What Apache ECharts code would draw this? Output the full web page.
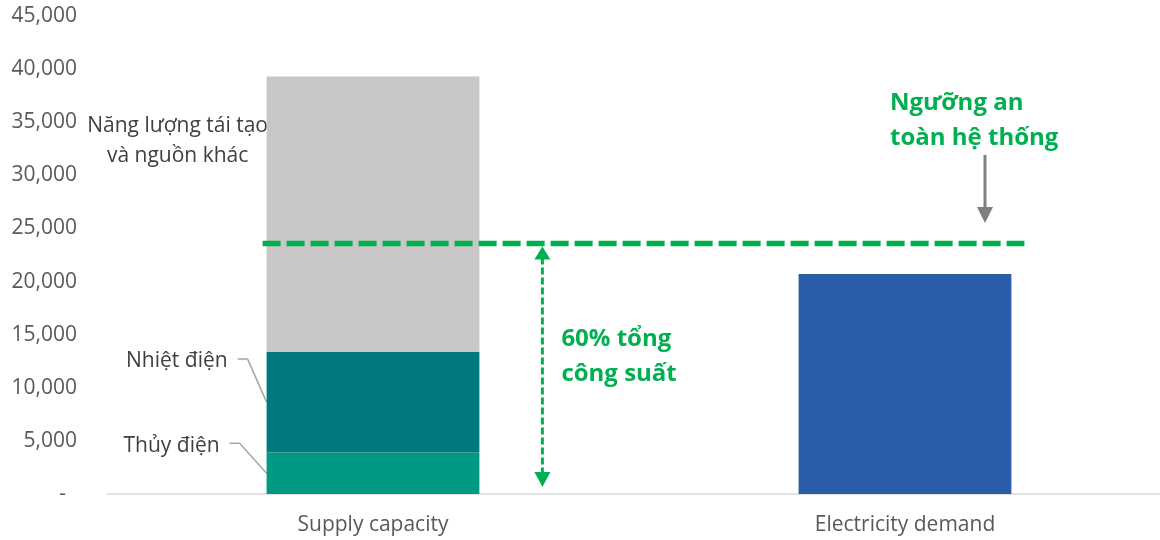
<!DOCTYPE html>
<html>
<head>
<meta charset="utf-8">
<title>Supply capacity vs electricity demand</title>
<script src="https://cdn.jsdelivr.net/npm/echarts@6/dist/echarts.min.js"></script>
<style>
  html, body { margin: 0; padding: 0; background: #ffffff; }
  #chart { width: 1160px; height: 540px; }
</style>
</head>
<body>
<div id="chart"></div>
<script>
// Categories and stacked capacity components (MW)
const categories = ['Supply capacity', 'Electricity demand'];
const hydro = [3900, null];        // Thủy điện
const thermal = [9500, null];      // Nhiệt điện
const renewable = [25900, null];   // Năng lượng tái tạo và nguồn khác
const demand = [null, 20700];      // Electricity demand
// Safety threshold: share of total installed capacity
const safetyShare = 0.6;
// Value axis ticks
const yMin = 0, yMax = 45000, yStep = 5000;

const FONT = "'Open Sans', 'Noto Sans', sans-serif";
const GREEN = '#00B050';

const chart = echarts.init(document.getElementById('chart'), null, { renderer: 'canvas' });

const totalCapacity = hydro[0] + thermal[0] + renewable[0];
const threshold = totalCapacity * safetyShare;

chart.setOption({
  animation: false,
  backgroundColor: '#ffffff',
  textStyle: { fontFamily: FONT },
  grid: { left: 107, top: 16, width: 1064, height: 478, outerBoundsMode: 'none', containLabel: false },
  xAxis: {
    type: 'category',
    data: categories,
    axisLine: { lineStyle: { color: '#d9d9d9', width: 1.5 } },
    axisTick: { show: false },
    axisLabel: { fontSize: 21, color: '#595959', margin: 21, fontFamily: FONT }
  },
  yAxis: {
    type: 'value',
    min: yMin, max: yMax, interval: yStep,
    axisLine: { show: false },
    axisTick: { show: false },
    splitLine: { show: false },
    axisLabel: {
      fontSize: 21, color: '#595959', margin: 30, fontFamily: FONT,
      formatter: v => v === 0 ? '{dash|-}' : v.toLocaleString('en-US'),
      rich: { dash: { fontSize: 21, color: '#595959', padding: [0, 11, 0, 0], fontFamily: FONT } }
    }
  },
  series: [
    { name: 'Thủy điện', type: 'bar', stack: 'all', barWidth: '40%', data: hydro, itemStyle: { color: '#009A84' } },
    { name: 'Nhiệt điện', type: 'bar', stack: 'all', data: thermal, itemStyle: { color: '#00787F' } },
    { name: 'Năng lượng tái tạo và nguồn khác', type: 'bar', stack: 'all', data: renewable, itemStyle: { color: '#C7C7C7' } },
    { name: 'Electricity demand', type: 'bar', stack: 'all', data: demand, itemStyle: { color: '#2B5CA7' } }
  ]
});

// Annotations placed from the axes' own scales
function px(catIndex, value) {
  return chart.convertToPixel({ xAxisIndex: 0, yAxisIndex: 0 }, [catIndex, value]);
}

const c0 = px(0, 0), c1 = px(1, 0);
const band = c1[0] - c0[0];
const halfBar = band * 0.4 / 2;
const supplyLeft = c0[0] - halfBar;
const supplyRight = c0[0] + halfBar;
const demandRight = c1[0] + halfBar;
const y0 = c0[1];
const yThr = px(0, threshold)[1];
const yHydroMid = px(0, hydro[0] / 2)[1];
const yThermalMid = px(0, hydro[0] + thermal[0] / 2)[1];
const yTop = px(0, totalCapacity)[1];

const labelStyle = { fill: '#404040', fontSize: 21, fontFamily: FONT };
const leader = { stroke: '#a6a6a6', lineWidth: 1.5, fill: null };

function tri(x, tipY, baseY, half, color) {
  return { type: 'polygon', shape: { points: [[x, tipY], [x - half, baseY], [x + half, baseY]] }, style: { fill: color } };
}

const arrowX = supplyRight + 63;
const grayX = 985;

chart.setOption({
  graphic: [
    // Component labels to the left of the supply bar
    { type: 'text', style: Object.assign({ text: 'Năng lượng tái tạo\nvà nguồn khác', x: supplyLeft - 89, y: yTop + 64, align: 'center', verticalAlign: 'middle', lineHeight: 30 }, labelStyle) },
    { type: 'text', style: Object.assign({ text: 'Nhiệt điện', x: supplyLeft - 39, y: yThermalMid - 41, align: 'right', verticalAlign: 'middle' }, labelStyle) },
    { type: 'polyline', shape: { points: [[supplyLeft - 29, yThermalMid - 43], [supplyLeft - 19, yThermalMid - 43], [supplyLeft, yThermalMid]] }, style: leader },
    { type: 'text', style: Object.assign({ text: 'Thủy điện', x: supplyLeft - 47, y: yHydroMid - 27, align: 'right', verticalAlign: 'middle' }, labelStyle) },
    { type: 'polyline', shape: { points: [[supplyLeft - 37, yHydroMid - 30], [supplyLeft - 27, yHydroMid - 30], [supplyLeft, yHydroMid]] }, style: leader },

    // Safety threshold line
    { type: 'line', z: 10, shape: { x1: supplyLeft - 4, y1: yThr, x2: demandRight + 13, y2: yThr }, style: { stroke: GREEN, lineWidth: 5.5, lineDash: [18, 6] } },

    // Double-headed arrow from the axis up to the threshold
    { type: 'line', shape: { x1: arrowX, y1: yThr + 14, x2: arrowX, y2: y0 - 20 }, style: { stroke: GREEN, lineWidth: 3, lineDash: [7, 3] } },
    tri(arrowX, yThr + 3, yThr + 16, 8, GREEN),
    tri(arrowX, y0 - 7, y0 - 22, 8, GREEN),
    { type: 'text', style: { text: '60% tổng\ncông suất', x: arrowX + 19, y: 357, align: 'left', verticalAlign: 'middle', lineHeight: 35, fill: GREEN, fontSize: 24, fontWeight: 'bold', fontFamily: FONT } },

    // Threshold caption with pointer
    { type: 'text', style: { text: 'Ngưỡng an\ntoàn hệ thống', x: 890, y: 121, align: 'left', verticalAlign: 'middle', lineHeight: 35, fill: GREEN, fontSize: 24, fontWeight: 'bold', fontFamily: FONT } },
    { type: 'line', shape: { x1: grayX, y1: 155, x2: grayX, y2: 210 }, style: { stroke: '#7f7f7f', lineWidth: 3 } },
    tri(grayX, 223, 207, 8, '#7f7f7f')
  ]
});
</script>
</body>
</html>
